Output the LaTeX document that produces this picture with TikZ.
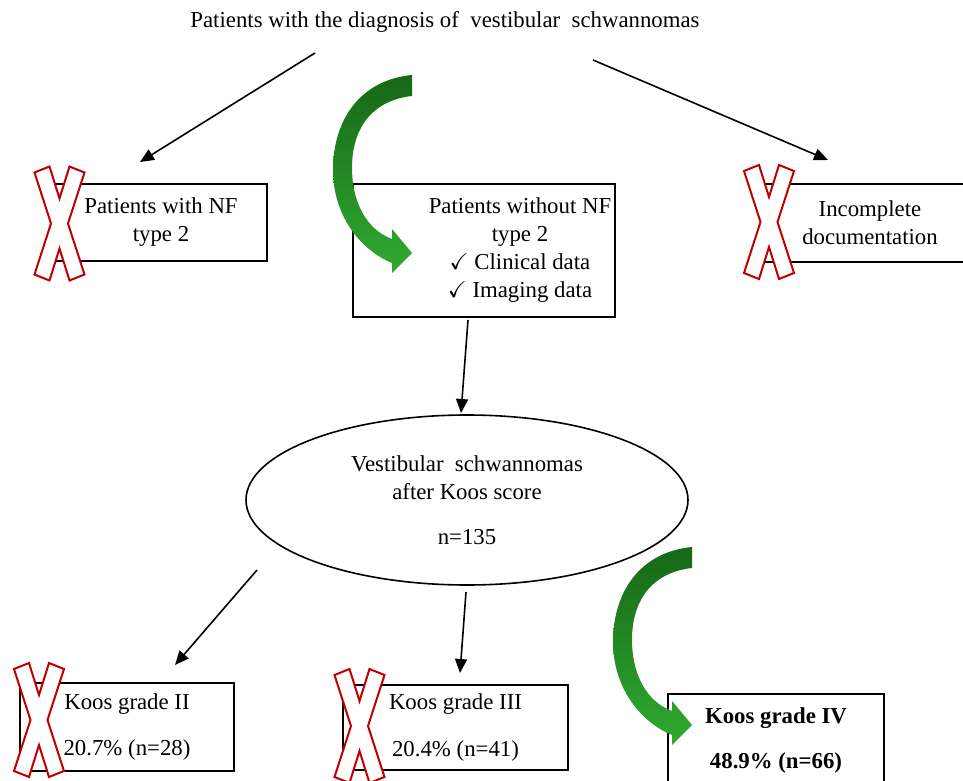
\documentclass[tikz,border=0pt]{standalone}
\usepackage{fontspec}
\setmainfont{Liberation Serif}
\usepackage{amssymb}
\usetikzlibrary{shapes.geometric, arrows.meta}

\definecolor{crossred}{RGB}{192,0,0}
\definecolor{greendark}{RGB}{22,104,22}
\definecolor{greenlight}{RGB}{48,170,48}

\tikzset{
	txt/.style = {font = \fontsize{22.8}{28}\selectfont, align = center, inner sep = 0pt},
	boxnode/.style = {draw, line width = 2pt, inner sep = 0pt},
	flow/.style = {line width = 1.6pt, -{Triangle[length = 14pt, width = 12pt]}},
	crossmark/.pic = {
		\draw[crossred, line width = 2pt, fill = white]
			(-25, -51) -- (-10, -57) -- (0, -25) -- (10, -57) -- (25, -51) -- (8.5, 0)
			-- (25, 51) -- (10, 57) -- (0, 25) -- (-10, 57) -- (-25, 51) -- (-8.5, 0) -- cycle;
	},
	bentarrow/.pic = {
		\shade[top color = greendark, bottom color = greenlight]
			(0, 0) .. controls (-52, 5) and (-79, 45) .. (-79, 95)
			.. controls (-79, 140) and (-52, 175) .. (-20, 188)
			-- (-20, 198) -- (0, 178) -- (-20, 154) -- (-20, 164)
			.. controls (-47, 154) and (-60, 125) .. (-60, 93)
			.. controls (-60, 50) and (-37, 25) .. (0, 21) -- cycle;
	}
}

\begin{document}
\begin{tikzpicture}[x = 1pt, y = -1pt]
	\path[use as bounding box, clip] (0, 0) rectangle (963, 781);

	\node[txt] (title) at (445, 22) {Patients with the diagnosis of~~vestibular~~schwannomas};

	\node[boxnode, txt, minimum width = 212pt, minimum height = 77pt] (withnf) at (161, 222.5) {Patients with NF\\type 2};
	\node[boxnode, minimum width = 262pt, minimum height = 133pt] (withoutnf) at (484, 250.5) {};
	\node[txt] (withoutnftext) at (520, 250.5) {Patients without NF\\type 2\\$\checkmark$ Clinical data\\$\checkmark$ Imaging data};
	\node[boxnode, txt, minimum width = 210pt, minimum height = 78pt] (incomplete) at (870, 223) {Incomplete\\documentation};

	\node[draw, ellipse, line width = 1.6pt, txt, minimum width = 442pt, minimum height = 170pt] (koos) at (467, 500) {Vestibular~~schwannomas\\after Koos score\\[17pt]n=135};

	\node[boxnode, txt, minimum width = 214pt, minimum height = 88pt] (gradetwo) at (127, 727) {Koos grade II\\[18pt]20.7\% (n=28)};
	\node[boxnode, txt, minimum width = 225pt, minimum height = 85pt] (gradethree) at (455.5, 727.5) {Koos grade III\\[19pt]20.4\% (n=41)};
	\node[boxnode, txt, font = \fontsize{22.8}{28}\selectfont\bfseries, minimum width = 216pt, minimum height = 94pt] (gradefour) at (776, 741) {Koos grade IV\\[17pt]48.9\% (n=66)};

	\pic at (59.5, 223.5) {crossmark};
	\pic at (769, 222) {crossmark};
	\pic at (39, 720) {crossmark};
	\pic at (359.5, 726) {crossmark};

	\pic at (412, 75) {bentarrow};
	\pic at (692, 547) {bentarrow};

	\coordinate (titleleft) at (315, 53);
	\coordinate (titleright) at (593, 60);
	\coordinate (withnftop) at (140, 162);
	\coordinate (incompletetop) at (828, 160);
	\coordinate (withoutnfbottom) at (468, 320);
	\coordinate (koostop) at (461, 413);
	\coordinate (koosleft) at (257, 570);
	\coordinate (koosbottom) at (466, 592);
	\coordinate (gradetwotop) at (175, 665);
	\coordinate (gradethreetop) at (460, 673);

	\draw[flow] (titleleft) -- (withnftop);
	\draw[flow] (titleright) -- (incompletetop);
	\draw[flow] (withoutnfbottom) -- (koostop);
	\draw[flow] (koosleft) -- (gradetwotop);
	\draw[flow] (koosbottom) -- (gradethreetop);
\end{tikzpicture}
\end{document}
